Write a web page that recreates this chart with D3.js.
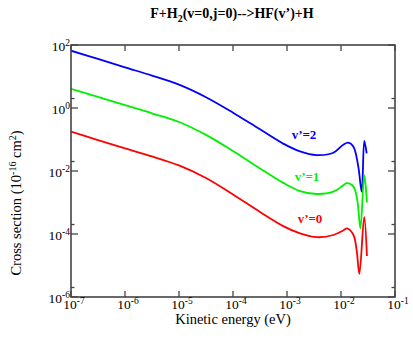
<!DOCTYPE html>
<html><head><meta charset="utf-8">
<script src="https://cdn.jsdelivr.net/npm/d3@7"></script>
<style>body{margin:0;background:#fff}svg{display:block}</style>
</head><body>
<svg id="c" width="413" height="339" font-family="'Liberation Serif', 'Times New Roman', 'DejaVu Serif', serif"></svg>
<script>
const energySmooth = [1e-7,3.16e-7,1e-6,3.16e-6,1e-5,3.16e-5,1e-4,3.16e-4,8.5e-4,1.74e-3,3.55e-3,7.24e-3];
const energyBlueTail = [1.1e-2,1.36e-2,1.7e-2,2.09e-2,2.42e-2,2.7e-2,2.99e-2];
const energyGreenTail = [1.1e-2,1.29e-2,1.7e-2,2.0e-2,2.29e-2,2.69e-2,3.02e-2];
const energyRedTail = [1.1e-2,1.29e-2,1.7e-2,1.95e-2,2.19e-2,2.69e-2,3.02e-2];
const sigmaBlue  = [66,36,19.5,10.7,5.5,2.2,0.71,0.21,0.074,0.042,0.032,0.038, 0.068,0.079,0.059,0.0138,0.0022,0.091,0.036];
const sigmaGreen = [4.07,2.24,1.23,0.68,0.36,0.14,0.043,0.012,0.0042,0.0023,0.00186,0.0022, 0.0035,0.0041,0.0032,0.0012,0.00015,0.0074,0.001];
const sigmaRed   = [0.178,0.095,0.052,0.029,0.015,0.006,0.0018,0.0005,0.000178,0.000105,0.000079,0.000093, 0.000129,0.000151,0.000093,0.00003,0.0000054,0.00035,0.00002];
const seriesNames = ["v’=2","v’=1","v’=0"];
const seriesColors = ["#0000ff","#00f000","#ff0000"];
const xTickExps = [-7,-6,-5,-4,-3,-2,-1];
const yTickExps = [2,0,-2,-4,-6];

const svg = d3.select("#c");
const L=71,R=395,T=45,B=297;
const x = d3.scaleLog().domain([1e-7,1e-1]).range([L,R]);
const y = d3.scaleLog().domain([1e-6,1e2]).range([B,T]);

const series = [
  {name:seriesNames[0],color:seriesColors[0],e:energySmooth.concat(energyBlueTail),s:sigmaBlue,lx:304,ly:139},
  {name:seriesNames[1],color:seriesColors[1],e:energySmooth.concat(energyGreenTail),s:sigmaGreen,lx:307,ly:181},
  {name:seriesNames[2],color:seriesColors[2],e:energySmooth.concat(energyRedTail),s:sigmaRed,lx:310,ly:223}
];
const line = d3.line().x(d=>x(d[0])).y(d=>y(d[1])).curve(d3.curveCatmullRom.alpha(0.5));
svg.append("defs").append("clipPath").attr("id","cp").append("rect").attr("x",L).attr("y",T).attr("width",R-L).attr("height",B-T);
series.forEach(sr=>{
  svg.append("path").attr("d",line(sr.e.map((v,i)=>[v,sr.s[i]])))
    .attr("fill","none").attr("stroke",sr.color).attr("stroke-width",1.8).attr("clip-path","url(#cp)");
  svg.append("text").attr("x",sr.lx).attr("y",sr.ly).attr("text-anchor","middle")
    .attr("font-size",13).attr("font-weight","bold").attr("fill",sr.color).text(sr.name);
});

const ax = svg.append("g").attr("stroke","#444").attr("stroke-width",1.3);
xTickExps.map(e=>Math.pow(10,e)).forEach(v=>{
  ax.append("line").attr("x1",x(v)).attr("x2",x(v)).attr("y1",B).attr("y2",B-6);
  ax.append("line").attr("x1",x(v)).attr("x2",x(v)).attr("y1",T).attr("y2",T+6);
});
yTickExps.forEach(e=>{
  const v=Math.pow(10,e), m=2*v;
  ax.append("line").attr("x1",L).attr("x2",L+7).attr("y1",y(v)).attr("y2",y(v));
  ax.append("line").attr("x1",R).attr("x2",R-7).attr("y1",y(v)).attr("y2",y(v));
  if(m<1e2){
    ax.append("line").attr("x1",L).attr("x2",L+3.5).attr("y1",y(m)).attr("y2",y(m));
    ax.append("line").attr("x1",R).attr("x2",R-3.5).attr("y1",y(m)).attr("y2",y(m));
  }
});
svg.append("rect").attr("x",L).attr("y",T).attr("width",R-L).attr("height",B-T)
  .attr("fill","none").attr("stroke","#444").attr("stroke-width",1.6);

function pow10(g,e){
  g.append("tspan").text("10");
  g.append("tspan").attr("dy",-5.5).attr("font-size",9.5).text(e);
}
xTickExps.forEach(e=>{
  const t=svg.append("text").attr("x",x(Math.pow(10,e))+3).attr("y",309).attr("text-anchor","middle").attr("font-size",13.5);
  pow10(t,e);
});
yTickExps.forEach(e=>{
  const t=svg.append("text").attr("x",L-1).attr("y",y(Math.pow(10,e))+6).attr("text-anchor","end").attr("font-size",13.5);
  pow10(t,e);
});

svg.append("text").attr("x",233).attr("y",324).attr("text-anchor","middle").attr("font-size",14.5).text("Kinetic energy (eV)");
const yl = svg.append("text").attr("transform","translate(21,203) rotate(-90)").attr("text-anchor","middle").attr("font-size",14.5);
yl.append("tspan").text("Cross section (10");
yl.append("tspan").attr("dy",-5.5).attr("font-size",10).text("-16");
yl.append("tspan").attr("dy",5.5).text(" cm");
yl.append("tspan").attr("dy",-5.5).attr("font-size",10).text("2");
yl.append("tspan").attr("dy",5.5).text(")");

const tt = svg.append("text").attr("x",232).attr("y",18).attr("text-anchor","middle").attr("font-size",14).attr("font-weight","bold");
tt.append("tspan").text("F+H");
tt.append("tspan").attr("dy",3.5).attr("font-size",10).text("2");
tt.append("tspan").attr("dy",-3.5).text("(v=0,j=0)-->HF(v’)+H");
</script>
</body></html>
